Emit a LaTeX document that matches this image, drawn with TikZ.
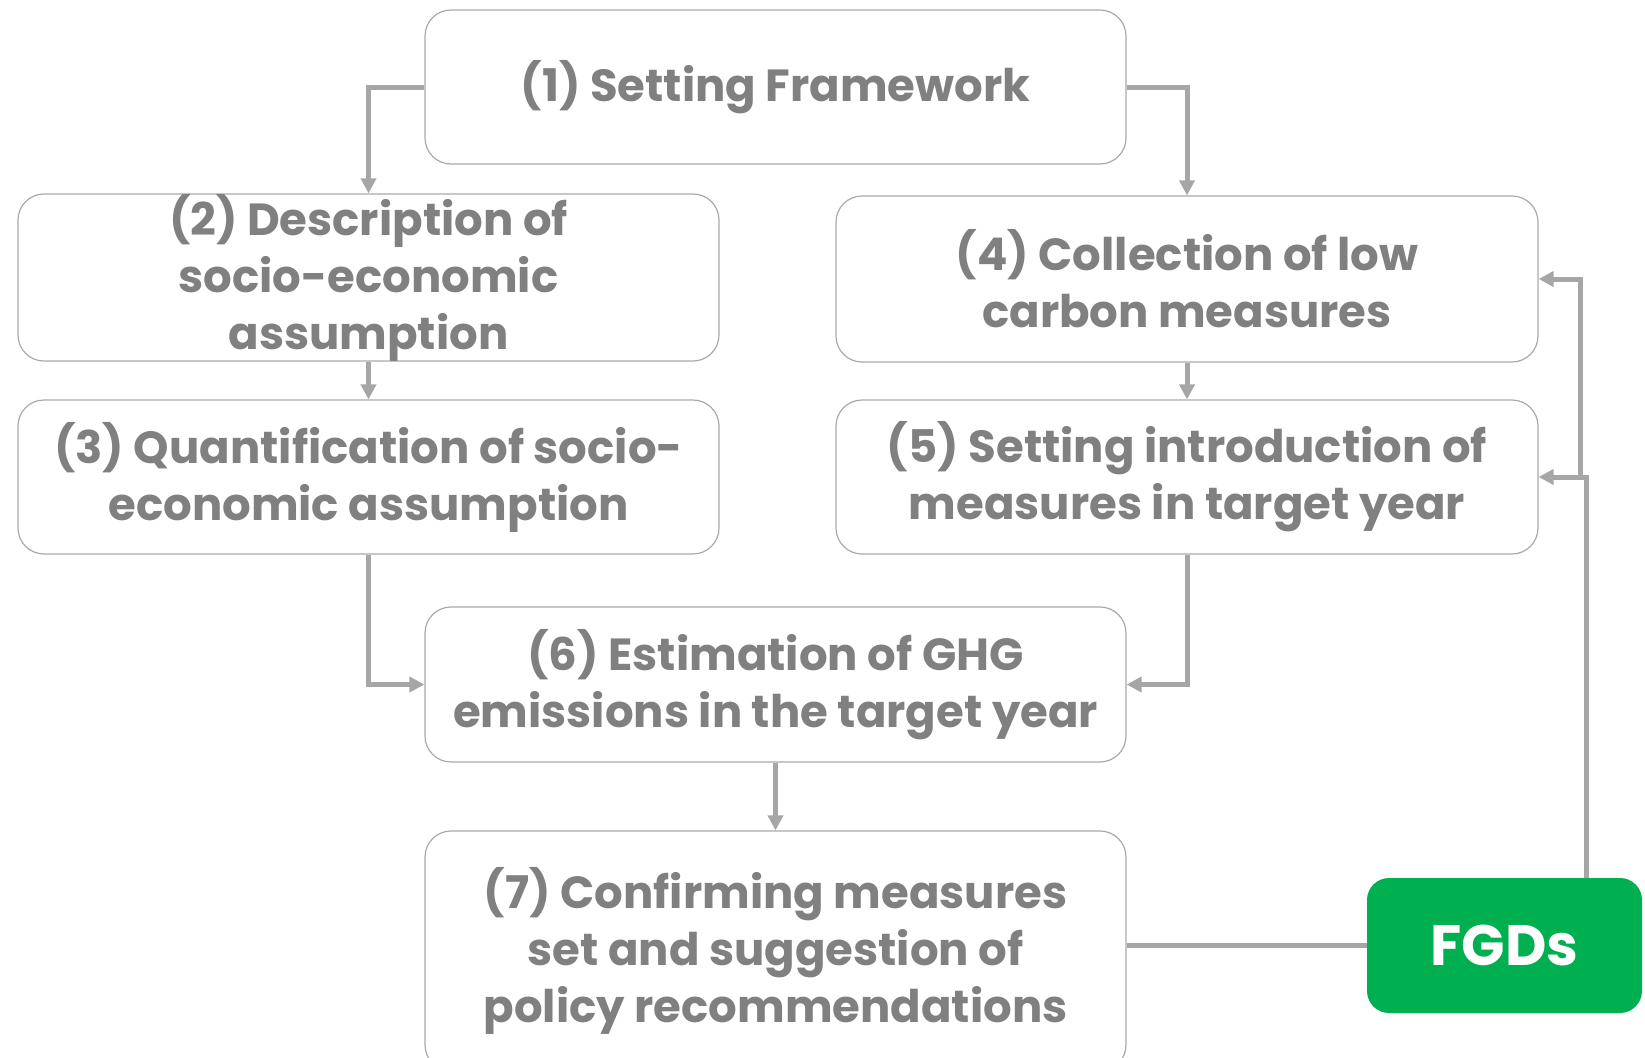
\documentclass[tikz,border=0pt]{standalone}
\usepackage{fontspec}
\setmainfont{Poppins}
\usetikzlibrary{arrows.meta}
\definecolor{txtgray}{HTML}{808080}
\definecolor{linegray}{HTML}{A6A6A6}
\definecolor{boxgray}{HTML}{A9A9A9}
\definecolor{fgdgreen}{HTML}{00B050}
\begin{document}
\begin{tikzpicture}[x=1pt,y=-1pt,
  stepbox/.style={draw=boxgray,line width=1.2pt,rounded corners=26pt,fill=white,
    align=center,text=txtgray,font=\fontsize{45}{57}\selectfont\bfseries,inner sep=0pt},
  conn/.style={draw=linegray,line width=5pt},
  arr/.style={conn,-{Triangle[length=15pt,width=15pt]}}]
\useasboundingbox (0,0) rectangle (1645,1057);
\node[stepbox,minimum width=701pt,minimum height=154pt] (b1) at (775.5,87) {(1) Setting Framework};
\node[stepbox,minimum width=701pt,minimum height=165pt] (b2) at (368.5,277.5) {(2) Description of\\socio-economic\\assumption};
\node[stepbox,minimum width=702pt,minimum height=166pt] (b4) at (1187,279) {(4) Collection of low\\carbon measures};
\node[stepbox,minimum width=701pt,minimum height=154pt] (b3) at (368.5,477) {(3) Quantification of socio-\\economic assumption};
\node[stepbox,minimum width=702pt,minimum height=154pt] (b5) at (1187,477) {(5) Setting introduction of\\measures in target year};
\node[stepbox,minimum width=701pt,minimum height=155pt] (b6) at (775.5,684.5) {(6) Estimation of GHG\\emissions in the target year};
\node[stepbox,minimum width=701pt,minimum height=240pt] (b7) at (775.5,951) {(7) Confirming measures\\set and suggestion of\\policy recommendations};
\node[fill=fgdgreen,rounded corners=22pt,minimum width=275pt,minimum height=135pt,inner sep=0pt,
  text=white,font=\fontsize{57}{60}\selectfont\bfseries] (fgd) at (1504.5,945.5) {FGDs};
\coordinate (j) at (1586,476);
\coordinate (k) at (1580,476);
\draw[arr] (b1.west) -| (b2.north);
\draw[arr] (b1.east) -| (b4.north);
\draw[arr] (b2.south) -- (b3.north);
\draw[arr] (b4.south) -- (b5.north);
\draw[arr] (b3.south) |- (b6.west);
\draw[arr] (b5.south) |- (b6.east);
\draw[arr] (b6.south) -- (b7.north);
\draw[conn] (fgd.west -| b7.east) -- (fgd.west);
\draw[arr] (fgd.north -| j) |- (b5.east);
\draw[arr] (k) |- (b4.east);
\end{tikzpicture}
\end{document}
